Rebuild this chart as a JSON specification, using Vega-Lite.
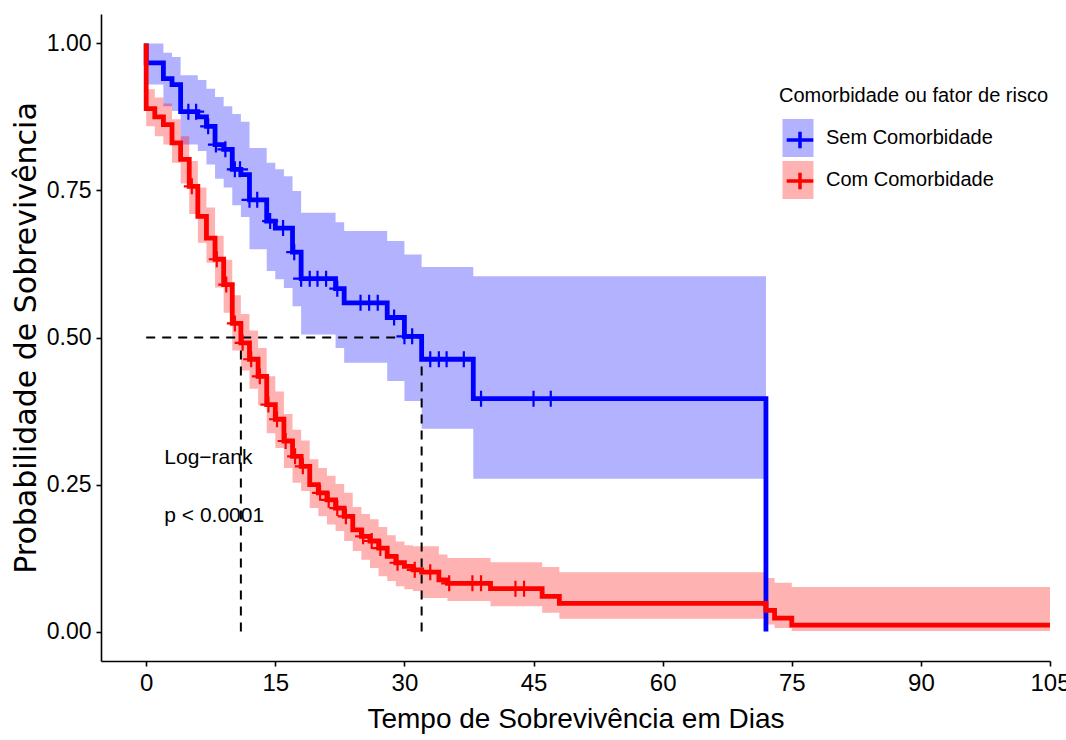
{
  "$schema": "https://vega.github.io/schema/vega-lite/v6.json",
  "width": 949,
  "height": 647,
  "autosize": {"type": "none"},
  "padding": {"left": 101, "top": 14, "right": 16, "bottom": 79},
  "background": "white",
  "config": {
    "view": {"stroke": null},
    "font": "Liberation Sans, Arial, sans-serif"
  },
  "datasets": {
    "banda": [
      {"g": "Sem Comorbidade", "dia": 0, "sup": 1.0, "inf": 0.93},
      {"g": "Sem Comorbidade", "dia": 2, "sup": 0.984, "inf": 0.893},
      {"g": "Sem Comorbidade", "dia": 3, "sup": 0.977, "inf": 0.885},
      {"g": "Sem Comorbidade", "dia": 4, "sup": 0.946, "inf": 0.828},
      {"g": "Sem Comorbidade", "dia": 6, "sup": 0.938, "inf": 0.817},
      {"g": "Sem Comorbidade", "dia": 7, "sup": 0.923, "inf": 0.794},
      {"g": "Sem Comorbidade", "dia": 8, "sup": 0.909, "inf": 0.77},
      {"g": "Sem Comorbidade", "dia": 9, "sup": 0.893, "inf": 0.755},
      {"g": "Sem Comorbidade", "dia": 10, "sup": 0.88, "inf": 0.725},
      {"g": "Sem Comorbidade", "dia": 11, "sup": 0.867, "inf": 0.705},
      {"g": "Sem Comorbidade", "dia": 12, "sup": 0.822, "inf": 0.65},
      {"g": "Sem Comorbidade", "dia": 14, "sup": 0.797, "inf": 0.613},
      {"g": "Sem Comorbidade", "dia": 15, "sup": 0.786, "inf": 0.599},
      {"g": "Sem Comorbidade", "dia": 16, "sup": 0.774, "inf": 0.584},
      {"g": "Sem Comorbidade", "dia": 17, "sup": 0.749, "inf": 0.553},
      {"g": "Sem Comorbidade", "dia": 18, "sup": 0.712, "inf": 0.505},
      {"g": "Sem Comorbidade", "dia": 22, "sup": 0.696, "inf": 0.482},
      {"g": "Sem Comorbidade", "dia": 23, "sup": 0.681, "inf": 0.457},
      {"g": "Sem Comorbidade", "dia": 28, "sup": 0.664, "inf": 0.426},
      {"g": "Sem Comorbidade", "dia": 30, "sup": 0.641, "inf": 0.392},
      {"g": "Sem Comorbidade", "dia": 32, "sup": 0.62, "inf": 0.345},
      {"g": "Sem Comorbidade", "dia": 38, "sup": 0.604, "inf": 0.26},
      {"g": "Sem Comorbidade", "dia": 72, "sup": 0.604, "inf": 0.26},
      {"g": "Com Comorbidade", "dia": 0, "sup": 0.922, "inf": 0.859},
      {"g": "Com Comorbidade", "dia": 1, "sup": 0.908, "inf": 0.842},
      {"g": "Com Comorbidade", "dia": 2, "sup": 0.898, "inf": 0.828},
      {"g": "Com Comorbidade", "dia": 3, "sup": 0.871, "inf": 0.797},
      {"g": "Com Comorbidade", "dia": 4, "sup": 0.842, "inf": 0.762},
      {"g": "Com Comorbidade", "dia": 5, "sup": 0.8, "inf": 0.71},
      {"g": "Com Comorbidade", "dia": 6, "sup": 0.755, "inf": 0.661},
      {"g": "Com Comorbidade", "dia": 7, "sup": 0.721, "inf": 0.627},
      {"g": "Com Comorbidade", "dia": 8, "sup": 0.673, "inf": 0.585},
      {"g": "Com Comorbidade", "dia": 9, "sup": 0.632, "inf": 0.542},
      {"g": "Com Comorbidade", "dia": 10, "sup": 0.572, "inf": 0.478},
      {"g": "Com Comorbidade", "dia": 11, "sup": 0.54, "inf": 0.444},
      {"g": "Com Comorbidade", "dia": 12, "sup": 0.512, "inf": 0.413},
      {"g": "Com Comorbidade", "dia": 13, "sup": 0.482, "inf": 0.385},
      {"g": "Com Comorbidade", "dia": 14, "sup": 0.434, "inf": 0.337},
      {"g": "Com Comorbidade", "dia": 15, "sup": 0.408, "inf": 0.312},
      {"g": "Com Comorbidade", "dia": 16, "sup": 0.37, "inf": 0.278},
      {"g": "Com Comorbidade", "dia": 17, "sup": 0.343, "inf": 0.253},
      {"g": "Com Comorbidade", "dia": 18, "sup": 0.325, "inf": 0.239},
      {"g": "Com Comorbidade", "dia": 19, "sup": 0.293, "inf": 0.21},
      {"g": "Com Comorbidade", "dia": 20, "sup": 0.278, "inf": 0.196},
      {"g": "Com Comorbidade", "dia": 21, "sup": 0.265, "inf": 0.182},
      {"g": "Com Comorbidade", "dia": 22, "sup": 0.251, "inf": 0.171},
      {"g": "Com Comorbidade", "dia": 23, "sup": 0.236, "inf": 0.154},
      {"g": "Com Comorbidade", "dia": 24, "sup": 0.212, "inf": 0.137},
      {"g": "Com Comorbidade", "dia": 25, "sup": 0.2, "inf": 0.122},
      {"g": "Com Comorbidade", "dia": 26, "sup": 0.191, "inf": 0.108},
      {"g": "Com Comorbidade", "dia": 27, "sup": 0.178, "inf": 0.094},
      {"g": "Com Comorbidade", "dia": 28, "sup": 0.164, "inf": 0.086},
      {"g": "Com Comorbidade", "dia": 29, "sup": 0.153, "inf": 0.077},
      {"g": "Com Comorbidade", "dia": 30, "sup": 0.147, "inf": 0.072},
      {"g": "Com Comorbidade", "dia": 31, "sup": 0.145, "inf": 0.069},
      {"g": "Com Comorbidade", "dia": 32, "sup": 0.145, "inf": 0.057},
      {"g": "Com Comorbidade", "dia": 34, "sup": 0.131, "inf": 0.057},
      {"g": "Com Comorbidade", "dia": 35, "sup": 0.125, "inf": 0.052},
      {"g": "Com Comorbidade", "dia": 40, "sup": 0.118, "inf": 0.043},
      {"g": "Com Comorbidade", "dia": 46, "sup": 0.11, "inf": 0.032},
      {"g": "Com Comorbidade", "dia": 48, "sup": 0.101, "inf": 0.022},
      {"g": "Com Comorbidade", "dia": 72, "sup": 0.091, "inf": 0.012},
      {"g": "Com Comorbidade", "dia": 73, "sup": 0.083, "inf": 0.006},
      {"g": "Com Comorbidade", "dia": 75, "sup": 0.076, "inf": 0.001},
      {"g": "Com Comorbidade", "dia": 105, "sup": 0.076, "inf": 0.001}
    ],
    "curva": [
      {"g": "Sem Comorbidade", "i": 0, "dia": 0, "S": 1.0},
      {"g": "Sem Comorbidade", "i": 1, "dia": 0, "S": 0.967},
      {"g": "Sem Comorbidade", "i": 2, "dia": 2, "S": 0.94},
      {"g": "Sem Comorbidade", "i": 3, "dia": 3, "S": 0.93},
      {"g": "Sem Comorbidade", "i": 4, "dia": 4, "S": 0.884},
      {"g": "Sem Comorbidade", "i": 5, "dia": 6, "S": 0.875},
      {"g": "Sem Comorbidade", "i": 6, "dia": 7, "S": 0.859},
      {"g": "Sem Comorbidade", "i": 7, "dia": 8, "S": 0.828},
      {"g": "Sem Comorbidade", "i": 8, "dia": 9, "S": 0.82},
      {"g": "Sem Comorbidade", "i": 9, "dia": 10, "S": 0.786},
      {"g": "Sem Comorbidade", "i": 10, "dia": 11, "S": 0.777},
      {"g": "Sem Comorbidade", "i": 11, "dia": 12, "S": 0.734},
      {"g": "Sem Comorbidade", "i": 12, "dia": 14, "S": 0.698},
      {"g": "Sem Comorbidade", "i": 13, "dia": 15, "S": 0.686},
      {"g": "Sem Comorbidade", "i": 14, "dia": 17, "S": 0.645},
      {"g": "Sem Comorbidade", "i": 15, "dia": 18, "S": 0.6},
      {"g": "Sem Comorbidade", "i": 16, "dia": 22, "S": 0.583},
      {"g": "Sem Comorbidade", "i": 17, "dia": 23, "S": 0.559},
      {"g": "Sem Comorbidade", "i": 18, "dia": 28, "S": 0.534},
      {"g": "Sem Comorbidade", "i": 19, "dia": 30, "S": 0.502},
      {"g": "Sem Comorbidade", "i": 20, "dia": 32, "S": 0.463},
      {"g": "Sem Comorbidade", "i": 21, "dia": 38, "S": 0.396},
      {"g": "Sem Comorbidade", "i": 22, "dia": 72, "S": 0.0},
      {"g": "Com Comorbidade", "i": 0, "dia": 0, "S": 1.0},
      {"g": "Com Comorbidade", "i": 1, "dia": 0, "S": 0.889},
      {"g": "Com Comorbidade", "i": 2, "dia": 1, "S": 0.875},
      {"g": "Com Comorbidade", "i": 3, "dia": 2, "S": 0.862},
      {"g": "Com Comorbidade", "i": 4, "dia": 3, "S": 0.831},
      {"g": "Com Comorbidade", "i": 5, "dia": 4, "S": 0.803},
      {"g": "Com Comorbidade", "i": 6, "dia": 5, "S": 0.757},
      {"g": "Com Comorbidade", "i": 7, "dia": 6, "S": 0.706},
      {"g": "Com Comorbidade", "i": 8, "dia": 7, "S": 0.669},
      {"g": "Com Comorbidade", "i": 9, "dia": 8, "S": 0.633},
      {"g": "Com Comorbidade", "i": 10, "dia": 9, "S": 0.59},
      {"g": "Com Comorbidade", "i": 11, "dia": 10, "S": 0.524},
      {"g": "Com Comorbidade", "i": 12, "dia": 11, "S": 0.491},
      {"g": "Com Comorbidade", "i": 13, "dia": 12, "S": 0.463},
      {"g": "Com Comorbidade", "i": 14, "dia": 13, "S": 0.434},
      {"g": "Com Comorbidade", "i": 15, "dia": 14, "S": 0.386},
      {"g": "Com Comorbidade", "i": 16, "dia": 15, "S": 0.361},
      {"g": "Com Comorbidade", "i": 17, "dia": 16, "S": 0.324},
      {"g": "Com Comorbidade", "i": 18, "dia": 17, "S": 0.298},
      {"g": "Com Comorbidade", "i": 19, "dia": 18, "S": 0.281},
      {"g": "Com Comorbidade", "i": 20, "dia": 19, "S": 0.25},
      {"g": "Com Comorbidade", "i": 21, "dia": 20, "S": 0.236},
      {"g": "Com Comorbidade", "i": 22, "dia": 21, "S": 0.224},
      {"g": "Com Comorbidade", "i": 23, "dia": 22, "S": 0.21},
      {"g": "Com Comorbidade", "i": 24, "dia": 23, "S": 0.196},
      {"g": "Com Comorbidade", "i": 25, "dia": 24, "S": 0.173},
      {"g": "Com Comorbidade", "i": 26, "dia": 25, "S": 0.162},
      {"g": "Com Comorbidade", "i": 27, "dia": 26, "S": 0.154},
      {"g": "Com Comorbidade", "i": 28, "dia": 27, "S": 0.142},
      {"g": "Com Comorbidade", "i": 29, "dia": 28, "S": 0.128},
      {"g": "Com Comorbidade", "i": 30, "dia": 29, "S": 0.117},
      {"g": "Com Comorbidade", "i": 31, "dia": 30, "S": 0.111},
      {"g": "Com Comorbidade", "i": 32, "dia": 31, "S": 0.105},
      {"g": "Com Comorbidade", "i": 33, "dia": 32, "S": 0.101},
      {"g": "Com Comorbidade", "i": 34, "dia": 34, "S": 0.088},
      {"g": "Com Comorbidade", "i": 35, "dia": 35, "S": 0.082},
      {"g": "Com Comorbidade", "i": 36, "dia": 40, "S": 0.073},
      {"g": "Com Comorbidade", "i": 37, "dia": 46, "S": 0.06},
      {"g": "Com Comorbidade", "i": 38, "dia": 48, "S": 0.048},
      {"g": "Com Comorbidade", "i": 39, "dia": 72, "S": 0.036},
      {"g": "Com Comorbidade", "i": 40, "dia": 73, "S": 0.023},
      {"g": "Com Comorbidade", "i": 41, "dia": 75, "S": 0.011},
      {"g": "Com Comorbidade", "i": 42, "dia": 105, "S": 0.011}
    ],
    "censura": [
      {"g": "Sem Comorbidade", "dia": 4.9, "S": 0.884},
      {"g": "Sem Comorbidade", "dia": 5.8, "S": 0.884},
      {"g": "Sem Comorbidade", "dia": 7.2, "S": 0.859},
      {"g": "Sem Comorbidade", "dia": 8.1, "S": 0.828},
      {"g": "Sem Comorbidade", "dia": 9.2, "S": 0.82},
      {"g": "Sem Comorbidade", "dia": 10.3, "S": 0.786},
      {"g": "Sem Comorbidade", "dia": 10.9, "S": 0.786},
      {"g": "Sem Comorbidade", "dia": 12.0, "S": 0.734},
      {"g": "Sem Comorbidade", "dia": 12.9, "S": 0.734},
      {"g": "Sem Comorbidade", "dia": 14.4, "S": 0.698},
      {"g": "Sem Comorbidade", "dia": 15.9, "S": 0.686},
      {"g": "Sem Comorbidade", "dia": 17.2, "S": 0.645},
      {"g": "Sem Comorbidade", "dia": 18.0, "S": 0.6},
      {"g": "Sem Comorbidade", "dia": 19.0, "S": 0.6},
      {"g": "Sem Comorbidade", "dia": 19.9, "S": 0.6},
      {"g": "Sem Comorbidade", "dia": 20.9, "S": 0.6},
      {"g": "Sem Comorbidade", "dia": 22.2, "S": 0.583},
      {"g": "Sem Comorbidade", "dia": 24.9, "S": 0.559},
      {"g": "Sem Comorbidade", "dia": 25.9, "S": 0.559},
      {"g": "Sem Comorbidade", "dia": 26.9, "S": 0.559},
      {"g": "Sem Comorbidade", "dia": 28.8, "S": 0.534},
      {"g": "Sem Comorbidade", "dia": 30.0, "S": 0.502},
      {"g": "Sem Comorbidade", "dia": 30.9, "S": 0.502},
      {"g": "Sem Comorbidade", "dia": 33.0, "S": 0.463},
      {"g": "Sem Comorbidade", "dia": 34.0, "S": 0.463},
      {"g": "Sem Comorbidade", "dia": 34.9, "S": 0.463},
      {"g": "Sem Comorbidade", "dia": 36.9, "S": 0.463},
      {"g": "Sem Comorbidade", "dia": 38.9, "S": 0.396},
      {"g": "Sem Comorbidade", "dia": 45.0, "S": 0.396},
      {"g": "Sem Comorbidade", "dia": 47.0, "S": 0.396},
      {"g": "Com Comorbidade", "dia": 5.3, "S": 0.757},
      {"g": "Com Comorbidade", "dia": 8.2, "S": 0.633},
      {"g": "Com Comorbidade", "dia": 9.3, "S": 0.59},
      {"g": "Com Comorbidade", "dia": 10.3, "S": 0.524},
      {"g": "Com Comorbidade", "dia": 11.2, "S": 0.491},
      {"g": "Com Comorbidade", "dia": 12.2, "S": 0.463},
      {"g": "Com Comorbidade", "dia": 13.2, "S": 0.434},
      {"g": "Com Comorbidade", "dia": 14.2, "S": 0.386},
      {"g": "Com Comorbidade", "dia": 15.2, "S": 0.361},
      {"g": "Com Comorbidade", "dia": 16.2, "S": 0.324},
      {"g": "Com Comorbidade", "dia": 17.3, "S": 0.298},
      {"g": "Com Comorbidade", "dia": 18.2, "S": 0.281},
      {"g": "Com Comorbidade", "dia": 20.2, "S": 0.236},
      {"g": "Com Comorbidade", "dia": 21.2, "S": 0.224},
      {"g": "Com Comorbidade", "dia": 22.2, "S": 0.21},
      {"g": "Com Comorbidade", "dia": 23.2, "S": 0.196},
      {"g": "Com Comorbidade", "dia": 25.2, "S": 0.162},
      {"g": "Com Comorbidade", "dia": 26.2, "S": 0.154},
      {"g": "Com Comorbidade", "dia": 27.2, "S": 0.142},
      {"g": "Com Comorbidade", "dia": 29.2, "S": 0.117},
      {"g": "Com Comorbidade", "dia": 31.2, "S": 0.105},
      {"g": "Com Comorbidade", "dia": 33.0, "S": 0.101},
      {"g": "Com Comorbidade", "dia": 35.2, "S": 0.082},
      {"g": "Com Comorbidade", "dia": 37.9, "S": 0.082},
      {"g": "Com Comorbidade", "dia": 38.9, "S": 0.082},
      {"g": "Com Comorbidade", "dia": 42.9, "S": 0.073},
      {"g": "Com Comorbidade", "dia": 43.9, "S": 0.073}
    ],
    "mediana": [
      {"dia": 0, "dia2": 32, "S": 0.5, "S2": 0.5},
      {"dia": 11, "dia2": 11, "S": 0, "S2": 0.5},
      {"dia": 32, "dia2": 32, "S": 0, "S2": 0.5}
    ],
    "anotacao": [
      {"dia": 2.1, "S": 0.295, "txt": "Log−rank"},
      {"dia": 2.1, "S": 0.196, "txt": "p < 0.0001"}
    ]
  },
  "layer": [
    {
      "data": {"name": "banda"},
      "mark": {"type": "area", "interpolate": "step-after", "opacity": 0.3},
      "encoding": {
        "x": {
          "field": "dia", "type": "quantitative",
          "scale": {"domain": [-5.25, 105], "nice": false, "zero": false},
          "axis": {
            "title": "Tempo de Sobrevivência em Dias",
            "values": [0, 15, 30, 45, 60, 75, 90, 105],
            "grid": false,
            "domainColor": "black", "domainWidth": 1.6,
            "tickColor": "black", "tickWidth": 1.6, "tickSize": 5,
            "labelFont": "Liberation Sans, Arial, sans-serif",
            "labelFontSize": 24, "labelColor": "black", "labelPadding": 5,
            "labelFlush": false, "labelOverlap": false, "labelBound": false,
            "titleFont": "Liberation Sans, Arial, sans-serif",
            "titleFontSize": 28, "titleFontWeight": "normal", "titleColor": "black", "titlePadding": 10
          }
        },
        "y": {
          "field": "sup", "type": "quantitative",
          "title": "Probabilidade de Sobrevivência",
          "scale": {"domain": [-0.05, 1.05], "nice": false, "zero": false},
          "axis": {
            "title": "Probabilidade de Sobrevivência",
            "values": [0, 0.25, 0.5, 0.75, 1],
            "format": ".2f",
            "grid": false,
            "domainColor": "black", "domainWidth": 1.6,
            "tickColor": "black", "tickWidth": 1.6, "tickSize": 5,
            "labelFont": "Liberation Sans, Arial, sans-serif",
            "labelFontSize": 23, "labelColor": "black", "labelPadding": 5,
            "titleFont": "DejaVu Sans, sans-serif",
            "titleFontSize": 30, "titleFontWeight": "normal", "titleColor": "black", "titlePadding": 5
          }
        },
        "y2": {"field": "inf"},
        "fill": {
          "field": "g", "type": "nominal",
          "sort": ["Sem Comorbidade", "Com Comorbidade"],
          "scale": {"range": ["#0000FF", "#FF0000"]},
          "legend": {
            "orient": "none", "legendX": 678, "legendY": 72,
            "title": "Comorbidade ou fator de risco",
            "titleFont": "Liberation Sans, Arial, sans-serif",
            "titleFontSize": 20, "titleFontWeight": "normal", "titleColor": "black", "titlePadding": 13,
            "titleLimit": 500, "labelLimit": 500,
            "labelFont": "Liberation Sans, Arial, sans-serif",
            "labelFontSize": 20, "labelColor": "black", "labelOffset": 9,
            "symbolType": "M-0.816,-1H0.816V1H-0.816Z", "symbolSize": 1444,
            "symbolOpacity": 0.3, "symbolStrokeWidth": 0,
            "rowPadding": 4, "padding": 0
          }
        }
      }
    },
    {
      "data": {"name": "mediana"},
      "mark": {"type": "rule", "color": "black", "strokeWidth": 2, "strokeDash": [9, 7]},
      "encoding": {
        "x": {"field": "dia", "type": "quantitative", "title": "Tempo de Sobrevivência em Dias"},
        "x2": {"field": "dia2"},
        "y": {"field": "S", "type": "quantitative", "title": "Probabilidade de Sobrevivência"},
        "y2": {"field": "S2"}
      }
    },
    {
      "data": {"name": "curva"},
      "mark": {"type": "line", "interpolate": "step-after", "strokeWidth": 4.8},
      "encoding": {
        "x": {"field": "dia", "type": "quantitative", "title": "Tempo de Sobrevivência em Dias"},
        "y": {"field": "S", "type": "quantitative", "title": "Probabilidade de Sobrevivência"},
        "order": {"field": "i", "type": "quantitative"},
        "stroke": {
          "field": "g", "type": "nominal",
          "sort": ["Sem Comorbidade", "Com Comorbidade"],
          "scale": {"range": ["#0000FF", "#FF0000"]},
          "legend": {
            "orient": "none", "legendX": 678, "legendY": 72,
            "title": "Comorbidade ou fator de risco",
            "titleFont": "Liberation Sans, Arial, sans-serif",
            "titleFontSize": 20, "titleFontWeight": "normal", "titleColor": "transparent", "titlePadding": 13,
            "titleLimit": 500, "labelLimit": 500,
            "labelFont": "Liberation Sans, Arial, sans-serif",
            "labelFontSize": 20, "labelColor": "transparent", "labelOffset": 9,
            "labelExpr": "''",
            "symbolType": "M-0.7,0H0.7M0,-0.44V0.44", "symbolSize": 1444,
            "symbolStrokeWidth": 3.5, "symbolOpacity": 1,
            "rowPadding": 4, "padding": 0
          }
        }
      }
    },
    {
      "data": {"name": "censura"},
      "mark": {"type": "point", "shape": "M-1,0H1M0,-1V1", "size": 256, "filled": false, "strokeWidth": 2.2, "opacity": 1},
      "encoding": {
        "x": {"field": "dia", "type": "quantitative", "title": "Tempo de Sobrevivência em Dias"},
        "y": {"field": "S", "type": "quantitative", "title": "Probabilidade de Sobrevivência"},
        "color": {
          "field": "g", "type": "nominal",
          "scale": {"domain": ["Sem Comorbidade", "Com Comorbidade"], "range": ["#0000FF", "#FF0000"]},
          "legend": null
        }
      }
    },
    {
      "data": {"name": "anotacao"},
      "mark": {"type": "text", "align": "left", "baseline": "middle", "fontSize": 21, "color": "black",
               "font": "Liberation Sans, Arial, sans-serif"},
      "encoding": {
        "x": {"field": "dia", "type": "quantitative", "title": "Tempo de Sobrevivência em Dias"},
        "y": {"field": "S", "type": "quantitative", "title": "Probabilidade de Sobrevivência"},
        "text": {"field": "txt"}
      }
    }
  ]
}
